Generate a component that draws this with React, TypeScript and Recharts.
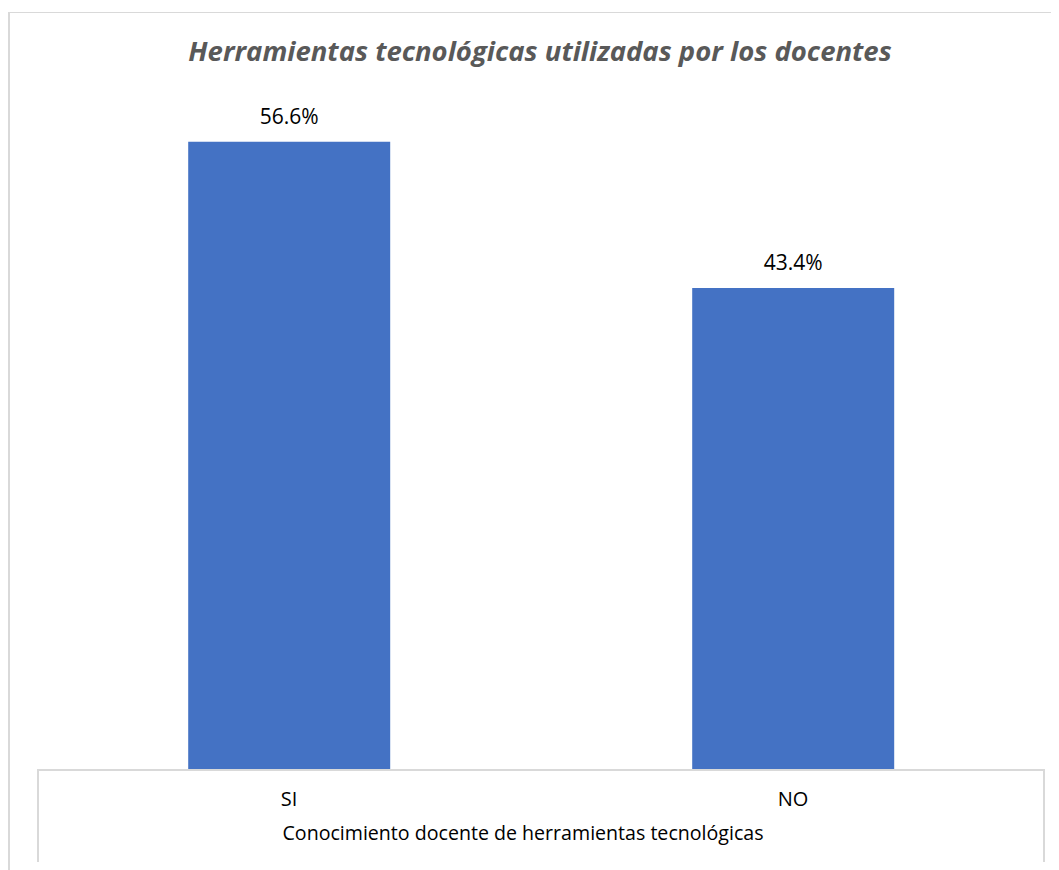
import { BarChart, Bar, XAxis, YAxis, LabelList } from "recharts";

const categories = ["SI", "NO"];
const percentages = [56.6, 43.4];

const title = "Herramientas tecnológicas utilizadas por los docentes";
const axisTitle = "Conocimiento docente de herramientas tecnológicas";

const data = categories.map((c, i) => ({ name: c, value: percentages[i] }));

const FONT = "'Open Sans', 'Noto Sans', sans-serif";

export default function App() {
  return (
    <div style={{ position: "relative", width: 1051, height: 862, fontFamily: FONT }}>
      {/* outer chart frame (left + top only, like the cropped source) */}
      <div
        style={{
          position: "absolute", left: 0, top: 4, width: 1051, height: 858,
          borderLeft: "2px solid #d9d9d9", borderTop: "1px solid #d9d9d9",
          boxSizing: "border-box",
        }}
      />
      {/* box around the category axis */}
      <div
        style={{
          position: "absolute", left: 29, top: 761, width: 1008, height: 93,
          border: "2px solid #d9d9d9", borderBottom: "none", boxSizing: "border-box",
        }}
      />
      <div
        style={{
          position: "absolute", left: 32, top: 24, width: 1000, textAlign: "center",
          fontSize: 27.5, fontWeight: 700, fontStyle: "italic", color: "#595959",
          lineHeight: "38px", whiteSpace: "nowrap",
        }}
      >
        {title}
      </div>
      <div style={{ position: "absolute", left: 0, top: 0 }}>
        <BarChart
          width={1051}
          height={862}
          data={data}
          margin={{ top: 96, right: 14, left: 29, bottom: 0 }}
          barCategoryGap="30%"
        >
          <XAxis
            dataKey="name"
            height={101}
            axisLine={false}
            tickLine={false}
            tickSize={0}
            tickMargin={23}
            tick={{ fontSize: 20, fill: "#000", fontFamily: FONT }}
            label={{
              value: axisTitle, position: "insideBottom", offset: 30, dx: -18,
              fontSize: 19.6, fill: "#000", fontFamily: FONT,
            }}
          />
          <YAxis hide domain={[0, 60]} />
          <Bar dataKey="value" fill="#4472C4" isAnimationActive={false}>
            <LabelList
              dataKey="value"
              position="top"
              offset={18}
              formatter={(v: any) => `${Number(v).toFixed(1)}%`}
              style={{ fontSize: 21, fill: "#000", fontFamily: FONT }}
            />
          </Bar>
        </BarChart>
      </div>
    </div>
  );
}
